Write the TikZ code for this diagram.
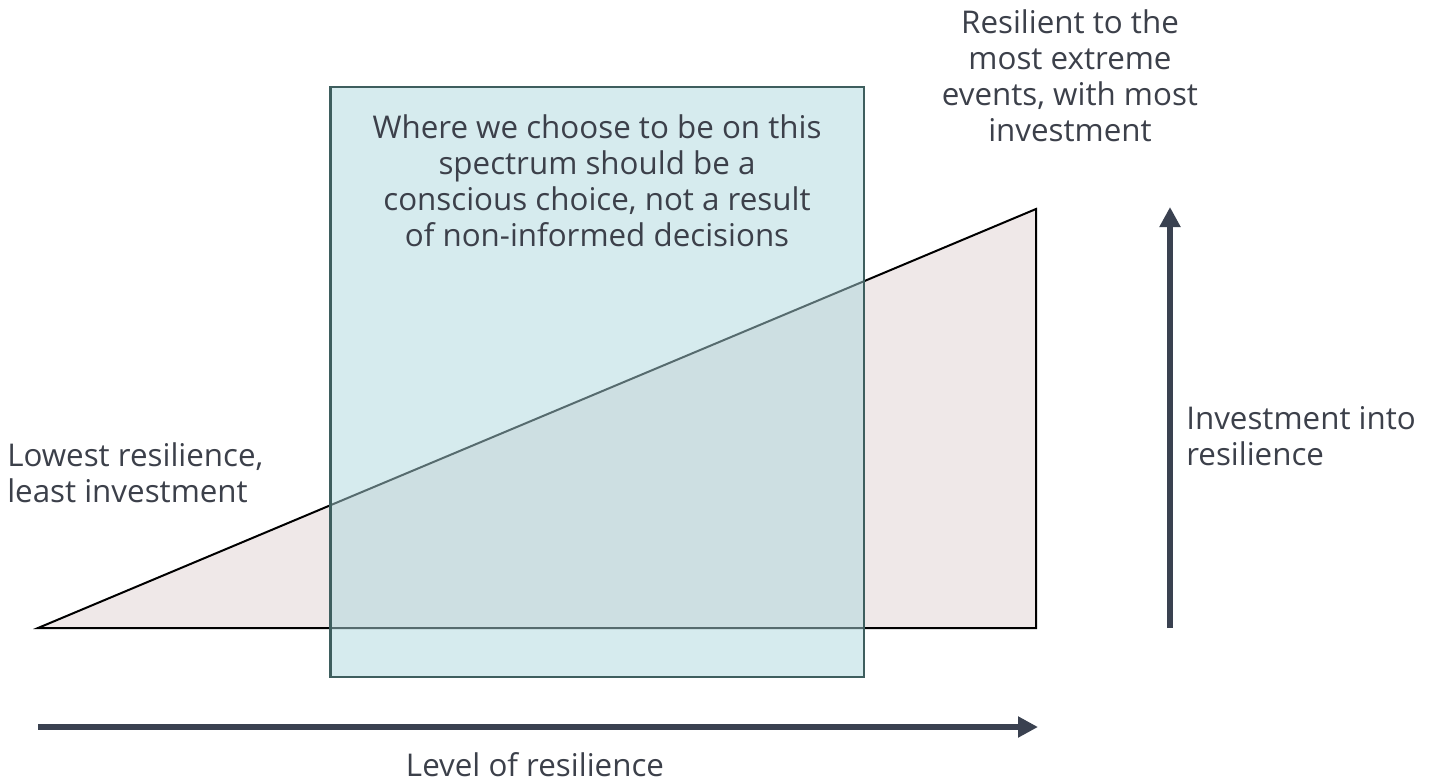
\documentclass[tikz,border=0pt]{standalone}
\usepackage{fontspec}
\setmainfont{Open Sans}
\usetikzlibrary{arrows.meta}
\definecolor{wedgefill}{HTML}{EFE8E8}
\definecolor{boxfill}{HTML}{ADD7DD}
\definecolor{boxline}{HTML}{3E5E5E}
\definecolor{arrowgray}{HTML}{3A4150}
\definecolor{textgray}{HTML}{3C404A}

\begin{document}
\begin{tikzpicture}[x=0.75pt,y=0.75pt]
\tikzstyle{every node}+=[inner sep=0pt, text=textgray, font=\fontsize{23.5}{27}\selectfont]
\tikzstyle{axis}=[draw=arrowgray, line width=5pt, -{Triangle[length=15pt,width=15pt]}]
\useasboundingbox (0,0) rectangle (1442,-783);
% wedge of resilience against investment
\coordinate (low) at (38,-628);
\coordinate (base) at (1036,-628);
\coordinate (high) at (1036,-209);
\draw [black, line width=1.5pt, fill=wedgefill, line join=miter] (low) -- (base) -- (high) -- cycle;
% chosen band, see-through over the wedge
\draw [boxline, line width=1.8pt, fill=boxfill, fill opacity=0.5] (330.5,-87) rectangle (864,-677);
\node (choice) [align=center] at (597,-181) {Where we choose to be on this\\spectrum should be a\\conscious choice, not a result\\of non-informed decisions};
% end labels
\node (top) [align=center] at (1070,-76) {Resilient to the\\most extreme\\events, with most\\investment};
\node (bottom) [align=left, anchor=west] at (7,-473) {Lowest resilience,\\least investment};
% axes
\coordinate (xa) at (38,-727);
\coordinate (xb) at (1038,-727);
\coordinate (ya) at (1170,-628);
\coordinate (yb) at (1170,-207);
\draw [axis] (xa) -- (xb);
\draw [axis] (ya) -- (yb);
\node (xlabel) at (535,-765) {Level of resilience};
\node (ylabel) [align=left, anchor=west] at (1186,-436) {Investment into\\resilience};
\end{tikzpicture}
\end{document}
